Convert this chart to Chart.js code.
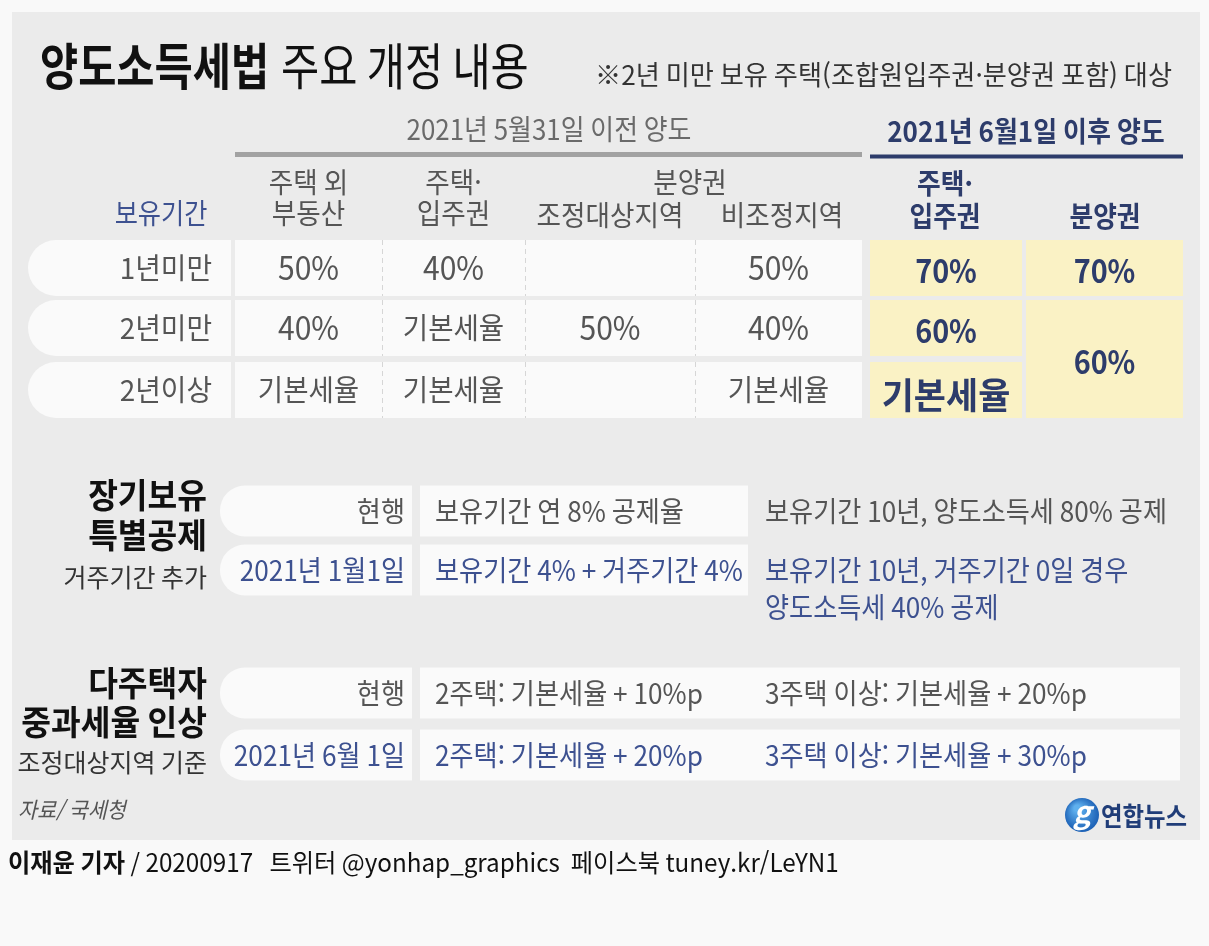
<!DOCTYPE html>
<html lang="ko">
<head>
<meta charset="utf-8">
<title>양도소득세법 주요 개정 내용</title>
<script src="https://cdn.jsdelivr.net/npm/chart.js@4.4.1/dist/chart.umd.min.js"></script>
<style>
  html, body { margin: 0; padding: 0; background: #f9f9f9; }
  #wrap { width: 1209px; height: 946px; position: relative; }
</style>
</head>
<body>
<div id="wrap"><canvas id="taxChart"></canvas></div>
<script>
// ---- datos de la tabla ----
const BASIC = '기본세율';
const periods = ['1년미만', '2년미만', '2년이상'];
const oldHeads = [['주택 외', '부동산'], ['주택·', '입주권'], ['조정대상지역'], ['비조정지역']];
const newHeads = [['주택·', '입주권'], ['분양권']];
const rateNonHouse = [50, 40, BASIC];
const rateHouseOld = [40, BASIC, BASIC];
const ratePresaleAdj = [null, 50, null];
const ratePresaleNonAdj = [50, 40, BASIC];
const rateHouseNew = [70, 60, BASIC];
const ratePresaleNew = [70, 60];          // 2년미만·2년이상 한 칸

const ltLabels = ['현행', '2021년 1월1일'];
const ltRates = ['보유기간 연 8% 공제율', '보유기간 4% + 거주기간 4%'];
const ltMax = [['보유기간 10년, 양도소득세 80% 공제'], ['보유기간 10년, 거주기간 0일 경우', '양도소득세 40% 공제']];

const mhLabels = ['현행', '2021년 6월 1일'];
const mhTwo = [10, 20];      // 2주택 가산 %p
const mhThree = [20, 30];    // 3주택 이상 가산 %p

// ---- layout (pixel units of the hidden scales) ----
const W = 1209, H = 946;
const ROW_Y = [268, 328, 390];
const ROW_H = 56;
const OLD_COLS = [[235, 382], [382, 525], [525, 695], [695, 862]];
const NEW_COLS = [[870, 1022], [1026, 1183]];
const SEC_H = 51;
const LT_Y = [511, 570];
const MH_Y = [693, 755];

const FONT = '"Noto Sans CJK KR", "Noto Sans", sans-serif';
const colors = {
    panel: '#ebebeb',
    cell: '#fafafa',
    yellow: '#faf2c5',
    gray: '#555555',
    lightGray: '#6a6a6a',
    navy: '#2d3c6b',
    blue: '#3d5190',
    black: '#111111',
    rule: '#a2a2a2'
};

const fmt = v => v === null || v === undefined ? '' : (typeof v === 'number' ? v + '%' : v);
const cell = (x0, x1, y) => ({ x: [x0, x1], y: y });
const mid = c => (c[0] + c[1]) / 2;

function drawText(ctx, str, x, y, o) {
    ctx.save();
    ctx.font = (o.style || '') + ' ' + (o.weight || 400) + ' ' + o.size + 'px ' + FONT;
    ctx.fillStyle = o.color || colors.gray;
    ctx.textBaseline = 'middle';
    ctx.textAlign = o.align || 'left';
    ctx.translate(x, y);
    ctx.scale(o.sx || 0.9, 1);
    ctx.fillText(str, 0, 0);
    const w = ctx.measureText(str).width * (o.sx || 0.9);
    ctx.restore();
    return w;
}

// fondo y panel gris
const panelPlugin = {
    id: 'panel',
    beforeDatasetsDraw(chart) {
        const { ctx } = chart;
        const X = v => chart.scales.x.getPixelForValue(v);
        const Y = v => chart.scales.y.getPixelForValue(v);
        ctx.save();
        ctx.fillStyle = '#f9f9f9';
        ctx.fillRect(0, 0, chart.width, chart.height);
        ctx.fillStyle = colors.panel;
        ctx.fillRect(X(12), Y(12), X(1200) - X(12), Y(840) - Y(12));
        ctx.restore();
    }
};

// textos, separadores y logo
const textPlugin = {
    id: 'tableText',
    afterDatasetsDraw(chart) {
        const { ctx } = chart;
        const X = v => chart.scales.x.getPixelForValue(v);
        const Y = v => chart.scales.y.getPixelForValue(v);

        // separadores punteados
        ctx.save();
        ctx.strokeStyle = '#d6d6d6';
        ctx.lineWidth = 1;
        ctx.setLineDash([5, 4]);
        ROW_Y.forEach(y => {
            OLD_COLS.slice(1).forEach(c => {
                ctx.beginPath();
                ctx.moveTo(X(c[0]) + 0.5, Y(y - ROW_H / 2));
                ctx.lineTo(X(c[0]) + 0.5, Y(y + ROW_H / 2));
                ctx.stroke();
            });
        });
        ctx.restore();

        // título
        const tw = drawText(ctx, '양도소득세법', X(40), Y(66), { size: 50, weight: 700, color: colors.black, sx: 0.83 });
        drawText(ctx, '주요 개정 내용', X(40) + tw + 12, Y(66), { size: 50, color: colors.black, sx: 0.83 });
        drawText(ctx, '※2년 미만 보유 주택(조합원입주권·분양권 포함) 대상', X(1172), Y(75),
            { size: 27, color: '#333', align: 'right', sx: 0.97 });

        drawText(ctx, '2021년 5월31일 이전 양도', X(549), Y(129), { size: 28, color: colors.lightGray, align: 'center', sx: 0.925 });
        drawText(ctx, '2021년 6월1일 이후 양도', X(1026), Y(131), { size: 28, weight: 700, color: colors.navy, align: 'center', sx: 0.93 });

        // encabezados de columna
        const head = { size: 28, color: colors.gray, align: 'center', sx: 0.95 };
        const headNew = { size: 28, weight: 700, color: colors.navy, align: 'center', sx: 0.92 };
        drawText(ctx, '보유기간', X(161), Y(213), Object.assign({}, head, { color: colors.blue, sx: 0.9 }));
        const headX = [mid(OLD_COLS[0]), mid(OLD_COLS[1])];
        oldHeads.slice(0, 2).forEach((h, i) => {
            drawText(ctx, h[0], X(headX[i]), Y(182), head);
            drawText(ctx, h[1], X(headX[i]), Y(213), head);
        });
        drawText(ctx, '분양권', X(690), Y(182), head);
        drawText(ctx, oldHeads[2][0], X(610), Y(215), head);
        drawText(ctx, oldHeads[3][0], X(782), Y(215), head);
        drawText(ctx, newHeads[0][0], X(945), Y(183), headNew);
        drawText(ctx, newHeads[0][1], X(945), Y(216), headNew);
        drawText(ctx, newHeads[1][0], X(1105), Y(216), headNew);

        // filas de la tabla
        const oldSeries = [rateNonHouse, rateHouseOld, ratePresaleAdj, ratePresaleNonAdj];
        periods.forEach((p, i) => {
            const y = Y(ROW_Y[i]);
            drawText(ctx, p, X(212), y, { size: 29, color: colors.gray, align: 'right', sx: 0.96 });
            oldSeries.forEach((s, j) => {
                const v = s[i];
                const isNum = typeof v === 'number';
                drawText(ctx, fmt(v), X(mid(OLD_COLS[j])), y,
                    { size: isNum ? 32 : 29, color: colors.gray, align: 'center', sx: isNum ? 0.94 : 0.95 });
            });
            const nv = rateHouseNew[i];
            drawText(ctx, fmt(nv), X(mid(NEW_COLS[0])), y + (typeof nv === 'number' ? 3 : 5),
                { size: typeof nv === 'number' ? 32 : 36, weight: 700, color: colors.navy, align: 'center', sx: typeof nv === 'number' ? 0.9 : 0.97 });
        });
        drawText(ctx, fmt(ratePresaleNew[0]), X(mid(NEW_COLS[1])), Y(ROW_Y[0]) + 3,
            { size: 32, weight: 700, color: colors.navy, align: 'center', sx: 0.9 });
        drawText(ctx, fmt(ratePresaleNew[1]), X(mid(NEW_COLS[1])), Y((ROW_Y[1] + ROW_Y[2]) / 2) + 3,
            { size: 32, weight: 700, color: colors.navy, align: 'center', sx: 0.9 });

        const secBold = { size: 34, weight: 700, color: colors.black, align: 'right', sx: 0.95 };
        const secSub = { size: 25, color: '#333', align: 'right', sx: 1.0 };
        const secTxt = { size: 28, sx: 0.935 };

        // 장기보유 특별공제
        drawText(ctx, '장기보유', X(207), Y(495), secBold);
        drawText(ctx, '특별공제', X(207), Y(535), secBold);
        drawText(ctx, '거주기간 추가', X(207), Y(577), secSub);
        ltLabels.forEach((l, i) => {
            const c = i === 0 ? colors.gray : colors.blue;
            const y = Y(LT_Y[i]);
            drawText(ctx, l, X(405), y, Object.assign({ color: c, align: 'right' }, secTxt));
            drawText(ctx, ltRates[i], X(435), y, Object.assign({ color: c }, secTxt));
            ltMax[i].forEach((line, k) => {
                drawText(ctx, line, X(765), y + k * 37, Object.assign({ color: c }, secTxt));
            });
        });

        // 다주택자 중과세율 인상
        drawText(ctx, '다주택자', X(207), Y(683), secBold);
        drawText(ctx, '중과세율 인상', X(207), Y(722), secBold);
        drawText(ctx, '조정대상지역 기준', X(207), Y(762), secSub);
        mhLabels.forEach((l, i) => {
            const c = i === 0 ? colors.gray : colors.blue;
            const y = Y(MH_Y[i]);
            drawText(ctx, l, X(405), y, Object.assign({ color: c, align: 'right' }, secTxt));
            drawText(ctx, '2주택: ' + BASIC + ' + ' + mhTwo[i] + '%p', X(435), y, Object.assign({ color: c }, secTxt));
            drawText(ctx, '3주택 이상: ' + BASIC + ' + ' + mhThree[i] + '%p', X(765), y, Object.assign({ color: c }, secTxt));
        });

        // fuente y logo
        drawText(ctx, '자료/ 국세청', X(18), Y(810), { size: 22, style: 'italic', color: colors.gray, sx: 0.94 });
        ctx.save();
        const g = ctx.createRadialGradient(X(1077), Y(808), 3, X(1082), Y(815), 19);
        g.addColorStop(0, '#5fb0ee');
        g.addColorStop(1, '#1659b0');
        ctx.beginPath();
        ctx.arc(X(1082), Y(815), 17, 0, Math.PI * 2);
        ctx.fillStyle = g;
        ctx.fill();
        ctx.restore();
        drawText(ctx, 'g', X(1082), Y(812), { size: 30, weight: 700, style: 'italic', color: '#ffffff', align: 'center', sx: 1 });
        drawText(ctx, '연합뉴스', X(1101), Y(816), { size: 26, weight: 700, color: '#203d78', sx: 0.9 });

        // línea de créditos
        const bw = drawText(ctx, '이재윤 기자', X(8), Y(862), { size: 25, weight: 700, color: colors.black, sx: 0.97 });
        drawText(ctx, ' / 20200917   트위터 @yonhap_graphics  페이스북 tuney.kr/LeYN1', X(8) + bw, Y(862),
            { size: 25, color: colors.black, sx: 0.97 });
    }
};

const leftRound = r => ({ topLeft: r, bottomLeft: r, topRight: 0, bottomRight: 0 });

new Chart(document.getElementById('taxChart'), {
    type: 'bar',
    data: {
        datasets: [
            {
                label: '기간',
                data: periods.map((p, i) => cell(28, 231, ROW_Y[i])),
                backgroundColor: colors.cell,
                barThickness: ROW_H,
                borderRadius: leftRound(28)
            },
            {
                label: '이전 양도',
                data: periods.map((p, i) => cell(OLD_COLS[0][0], OLD_COLS[3][1], ROW_Y[i])),
                backgroundColor: colors.cell,
                barThickness: ROW_H
            },
            {
                label: '이후 양도',
                data: rateHouseNew.map((v, i) => cell(NEW_COLS[0][0], NEW_COLS[0][1], ROW_Y[i]))
                    .concat([cell(NEW_COLS[1][0], NEW_COLS[1][1], ROW_Y[0])]),
                backgroundColor: colors.yellow,
                barThickness: ROW_H
            },
            {
                label: '분양권 2년',
                data: [cell(NEW_COLS[1][0], NEW_COLS[1][1], (ROW_Y[1] + ROW_Y[2]) / 2)],
                backgroundColor: colors.yellow,
                barThickness: ROW_Y[2] - ROW_Y[1] + ROW_H
            },
            {
                label: '구분선',
                data: [cell(235, 862, 154.5)],
                backgroundColor: colors.rule,
                barThickness: 5
            },
            {
                label: '구분선2',
                data: [cell(870, 1183, 156.5)],
                backgroundColor: colors.navy,
                barThickness: 4
            },
            {
                label: '구분',
                data: LT_Y.concat(MH_Y).map(y => cell(220, 412, y)),
                backgroundColor: colors.cell,
                barThickness: SEC_H,
                borderRadius: leftRound(25)
            },
            {
                label: '내용',
                data: LT_Y.map(y => cell(420, 748, y)).concat(MH_Y.map(y => cell(420, 1180, y))),
                backgroundColor: colors.cell,
                barThickness: SEC_H
            }
        ]
    },
    options: {
        indexAxis: 'y',
        responsive: true,
        maintainAspectRatio: false,
        animation: false,
        events: [],
        layout: { padding: 0 },
        datasets: {
            bar: { grouped: false, borderSkipped: false, borderWidth: 0, inflateAmount: 0 }
        },
        plugins: {
            legend: { display: false },
            tooltip: { enabled: false }
        },
        scales: {
            x: { type: 'linear', min: 0, max: W, display: false },
            y: { type: 'linear', min: 0, max: H, reverse: true, offset: false, display: false }
        }
    },
    plugins: [panelPlugin, textPlugin]
});
</script>
</body>
</html>
